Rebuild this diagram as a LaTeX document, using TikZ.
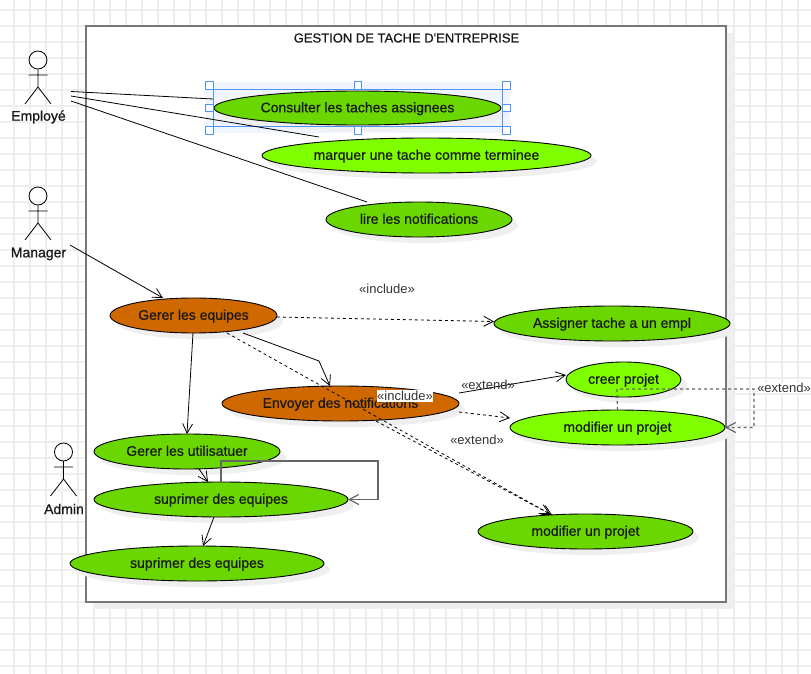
\documentclass[tikz,border=0pt]{standalone}
\usepackage{fontspec}
\setmainfont{Liberation Sans}
\newfontfamily\ucfont[FakeBold=0.7]{Liberation Sans}
\usetikzlibrary{shapes.geometric,arrows.meta,shadows,calc}
\definecolor{gridc}{HTML}{EEEEEE}
\definecolor{shadowc}{HTML}{EFEFEF}
\definecolor{greenc}{HTML}{6AD800}
\definecolor{limec}{HTML}{80FF00}
\definecolor{orangec}{HTML}{D06800}
\definecolor{framec}{HTML}{777777}
\definecolor{loopc}{HTML}{666666}
\definecolor{selc}{HTML}{4F94F5}
\definecolor{selbg}{HTML}{F0F4FD}
\definecolor{labc}{HTML}{333333}
\tikzset{
  x=1pt,y=-1pt,
  ucase/.style={ellipse,draw=black,line width=.9pt,inner sep=0pt,outer sep=0pt,minimum height=35pt,
    font=\ucfont\fontsize{14}{16}\selectfont,text=black!90,text height=11pt,text depth=2.4pt,
    general shadow={shadow xshift=6pt,shadow yshift=-6pt,fill=shadowc}},
  greenuc/.style={ucase,fill=greenc},
  limeuc/.style={ucase,fill=limec},
  orangeuc/.style={ucase,fill=orangec},
  link/.style={black,line width=.8pt},
  assoc/.style={link,-{Straight Barb[length=9.5pt,width=10pt]}},
  dep/.style={assoc,dash pattern=on 3pt off 3pt},
  loopsolid/.style={loopc,line width=1.2pt,-{Straight Barb[length=9.5pt,width=10pt]}},
  loopdash/.style={loopc,line width=1.2pt,dash pattern=on 3pt off 3pt,-{Straight Barb[length=9.5pt,width=10pt]}},
  stereo/.style={font=\fontsize{13}{15}\selectfont,text=labc,inner sep=0pt},
  actorlab/.style={font=\ucfont\fontsize{14}{16}\selectfont,text=black!90,inner sep=0pt},
  actorline/.style={black,line width=.8pt},
  handle/.style={draw=selc,fill=white,line width=.8pt,minimum size=7.5pt,inner sep=0pt,shape=rectangle},
}
\newcommand{\stickman}[2]{%
  \draw[actorline] (#1,#2) circle[radius=9pt];
  \draw[actorline] (#1,#2+9) -- (#1,#2+27) (#1-9.5,#2+15) -- (#1+9.5,#2+15)
    (#1-13,#2+44) -- (#1,#2+27) -- (#1+13,#2+44);
}
\begin{document}
\begin{tikzpicture}
\useasboundingbox (0,0) rectangle (811,674);
\fill[white] (0,0) rectangle (811,674);
\foreach \gx in {14,30,...,810} \draw[gridc,line width=1.3pt] (\gx,0) -- (\gx,674);
\foreach \gy in {10,26,...,673} \draw[gridc,line width=1.3pt] (0,\gy) -- (811,\gy);

% frame
\fill[shadowc] (93,33) rectangle (733,609);
\node[draw=framec,fill=white,line width=1.6pt,minimum width=640pt,minimum height=576pt,inner sep=0pt,outer sep=0pt] (frame) at (406,314) {};
\node[font=\ucfont\fontsize{13}{15}\selectfont,text=black!90,inner sep=0pt] (title) at (406.5,38) {GESTION DE TACHE D'ENTREPRISE};

% selection background
\fill[selbg] (206,82) rectangle (510,133);

% use cases
\node[greenuc,minimum width=287pt,minimum height=34pt] (cons) at (357.5,108) {Consulter les taches assignees};
\node[limeuc,minimum width=329pt] (mark) at (426.5,155.5) {marquer une tache comme terminee};
\node[greenuc,minimum width=186pt] (lire) at (419,219.5) {lire les notifications};
\node[orangeuc,minimum width=167pt] (geq) at (193.5,315.5) {Gerer les equipes};
\node[greenuc,minimum width=236pt] (assi) at (612,323.5) {Assigner tache a un empl};
\node[limeuc,minimum width=115pt] (creer) at (623.5,379.5) {creer projet};
\node[orangeuc,minimum width=237pt] (envo) at (340.5,403.5) {Envoyer des notifications};
\node[limeuc,minimum width=215pt] (modi) at (617.5,427.5) {modifier un projet};
\node[greenuc,minimum width=186pt] (guti) at (187,451.5) {Gerer les utilisatuer};
\node[greenuc,minimum width=254pt] (sup) at (221,499.5) {suprimer des equipes};
\node[greenuc,minimum width=215pt] (modb) at (585.5,531.5) {modifier un projet};
\node[greenuc,minimum width=254pt] (supb) at (197,563.5) {suprimer des equipes};

% selection outline and handles
\draw[selc,line width=.8pt] (213,89) rectangle (502.5,126);
\foreach \hx/\hy/\hn in {209.5/85.5/a,358/85.5/b,506.5/85.5/c,209.5/108/d,506.5/108/e,209.5/130.5/f,358/130.5/g,506.5/130.5/h}
  \node[handle] (sel\hn) at (\hx,\hy) {};

% actors
\stickman{38}{60}
\node[actorlab] (emp) at (38.5,117) {Employé};
\stickman{38}{196}
\node[actorlab] (man) at (38.5,254) {Manager};
\stickman{63.5}{452}
\node[actorlab] (adm) at (64,509) {Admin};
\coordinate (emp1) at (71,91.5);
\coordinate (emp2) at (71,96);
\coordinate (emp3) at (71,101);
\coordinate (man1) at (70,245);

% connectors
\draw[link] (emp1) -- ([shift={(-1pt,9pt)}]cons.west);
\draw[link] (emp2) -- ([shift={(-107.5pt,1pt)}]mark.north);
\draw[link] (emp3) -- ([xshift=-52pt]lire.north);
\draw[assoc] (man1) -- ([xshift=-30.5pt]geq.north);
\draw[dep] ([yshift=-1.5pt]geq.east) -- ([yshift=2pt]assi.west);
\draw[assoc] ([xshift=49.5pt]geq.south) -- (319,361) -- ([xshift=-10.5pt]envo.north);
\draw[assoc] ([xshift=-.5pt]geq.south) -- (guti.north);
\draw[dep] ([xshift=33.5pt]geq.south) -- ([shift={(-33.5pt,-1pt)}]modb.north);
\draw[dep] ([xshift=35.5pt]envo.south) -- ([xshift=-35.5pt]modb.north);
\draw[assoc] ([yshift=10.5pt]envo.east) -- ([yshift=4.5pt]creer.west);
\draw[dep] ([yshift=-8.5pt]envo.east) -- ([yshift=9.5pt]modi.west);
\draw[assoc] ([xshift=12pt]guti.south) -- ([xshift=-13pt]sup.north);
\draw[assoc] ([xshift=-7pt]sup.south) -- ([xshift=6pt]supb.north);
\draw[loopsolid] (sup.north) -- (221,461) -- (378,461) -- (378,499.5) -- (sup.east);
\draw[loopdash] (modi.north) -- (617,389) -- (754,389) -- (754,427.5) -- (modi.east);

% stereotypes
\node[stereo] (l1) at (387,288.5) {«include»};
\node[stereo,fill=white,inner xsep=.5pt,inner ysep=1pt] (l2) at (405,396) {«include»};
\node[stereo] (l3) at (488,385) {«extend»};
\node[stereo] (l4) at (477,440) {«extend»};
\node[stereo,fill=white] (l5) at (784,388) {«extend»};
\end{tikzpicture}
\end{document}
